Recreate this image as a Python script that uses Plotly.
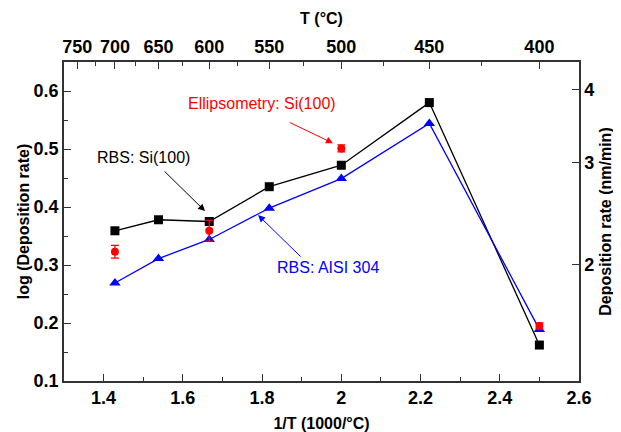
import plotly.graph_objects as go

# Data
temps_c = [700, 650, 600, 550, 500, 450, 400]
inv_t = [1000.0 / t for t in temps_c]
rbs_si = [0.359, 0.378, 0.375, 0.435, 0.472, 0.580, 0.162]
rbs_aisi = [0.269, 0.311, 0.344, 0.398, 0.449, 0.544, 0.189]
ell_temps = [700, 600, 500, 400]
ell_x = [1000.0 / t for t in ell_temps]
ell_y = [0.323, 0.359, 0.501, 0.195]
ell_err = [0.011, 0.018, 0.006, 0.005]

top_major_T = [750, 700, 650, 600, 550, 500, 450, 400]
top_minor_T = [725, 675, 625, 575, 525, 475, 425]
right_ticks = [2, 3, 4]

font_family = "Liberation Sans, Arial, sans-serif"
axcol = "#333333"

fig = go.Figure()
fig.add_trace(go.Scatter(x=inv_t, y=rbs_si, mode="lines+markers",
                         line=dict(color="black", width=1.3),
                         marker=dict(symbol="square", size=9, color="black"),
                         showlegend=False))
fig.add_trace(go.Scatter(x=inv_t, y=rbs_aisi, mode="lines+markers",
                         line=dict(color="#0000ff", width=1.3),
                         marker=dict(symbol="triangle-up", size=10, color="#0000ff"),
                         showlegend=False))
fig.add_trace(go.Scatter(x=ell_x, y=ell_y, mode="markers",
                         marker=dict(symbol="circle", size=8, color="#ff0000"),
                         error_y=dict(type="data", array=ell_err, color="#ff0000",
                                      thickness=1.3, width=4),
                         showlegend=False))
# invisible trace for secondary axes
fig.add_trace(go.Scatter(x=[1.3], y=[2], xaxis="x2", yaxis="y2", mode="markers",
                         marker=dict(opacity=0), showlegend=False, hoverinfo="skip"))

tickfont = dict(family=font_family, size=18, color="black", weight="bold")
titlefont = dict(family=font_family, size=16, color="black", weight="bold")
common = dict(ticks="inside", ticklen=7, tickwidth=1.2, tickcolor=axcol,
              showline=True, linecolor=axcol, linewidth=1.5, showgrid=False,
              zeroline=False, tickfont=tickfont, automargin=False)
minor_common = dict(tickmode="array", ticks="inside", ticklen=4,
                    tickcolor=axcol, tickwidth=1.2)

# page body has an 8px default margin, so the figure is sized to fit the window
fig.update_layout(
    width=613, height=424,
    margin=dict(l=56, r=42, t=54, b=51),
    paper_bgcolor="white", plot_bgcolor="white",
    xaxis=dict(range=[1.3, 2.6], tickmode="array",
               tickvals=[1.4, 1.6, 1.8, 2.0, 2.2, 2.4, 2.6],
               ticktext=["1.4", "1.6", "1.8", "2", "2.2", "2.4", "2.6"],
               minor=dict(tickvals=[1.3, 1.5, 1.7, 1.9, 2.1, 2.3, 2.5], **minor_common),
               title=dict(text="1/T (1000/°C)", font=titlefont, standoff=10),
               **common),
    xaxis2=dict(range=[1.3, 2.6], overlaying="x", side="top", anchor="y",
                tickmode="array", tickvals=[1000.0 / t for t in top_major_T],
                ticktext=[str(t) for t in top_major_T],
                minor=dict(tickvals=[1000.0 / t for t in top_minor_T], **minor_common),
                title=dict(text="T (°C)", font=titlefont, standoff=8),
                **common),
    yaxis=dict(range=[0.1, 0.65], tickmode="array",
               tickvals=[0.1, 0.2, 0.3, 0.4, 0.5, 0.6],
               ticktext=["0.1", "0.2", "0.3", "0.4", "0.5", "0.6"],
               minor=dict(tickvals=[0.15, 0.25, 0.35, 0.45, 0.55, 0.65], **minor_common),
               title=dict(text="log (Deposition rate)", font=titlefont, standoff=0),
               **common),
    yaxis2=dict(type="log", range=[0.1, 0.65], overlaying="y", side="right", anchor="x",
                tickmode="array", tickvals=right_ticks,
                ticktext=[str(v) for v in right_ticks],
                title=dict(text="Deposition rate (nm/min)", font=titlefont, standoff=6),
                **common),
    annotations=[
        dict(x=1.979, y=0.510, xref="x", yref="y", text="", showarrow=True,
             arrowhead=2, arrowsize=1.4, arrowwidth=1, arrowcolor="#ff0000",
             ax=1.866, ay=0.547, axref="x", ayref="y"),
        dict(x=1.80, y=0.578, xref="x", yref="y", text="Ellipsometry: Si(100)",
             showarrow=False, font=dict(family=font_family, size=16, color="#ff0000")),
        dict(x=1.656, y=0.393, xref="x", yref="y", text="", showarrow=True,
             arrowhead=2, arrowsize=1.4, arrowwidth=1, arrowcolor="black",
             ax=1.55, ay=0.464, axref="x", ayref="y"),
        dict(x=1.50, y=0.486, xref="x", yref="y", text="RBS: Si(100)",
             showarrow=False, font=dict(family=font_family, size=16, color="black")),
        dict(x=1.79, y=0.386, xref="x", yref="y", text="", showarrow=True,
             arrowhead=2, arrowsize=1.4, arrowwidth=1, arrowcolor="#0000ff",
             ax=1.901, ay=0.312, axref="x", ayref="y"),
        dict(x=1.967, y=0.295, xref="x", yref="y", text="RBS: AISI 304",
             showarrow=False, font=dict(family=font_family, size=16, color="#0000ff")),
    ],
)

fig.write_html("out.html")
